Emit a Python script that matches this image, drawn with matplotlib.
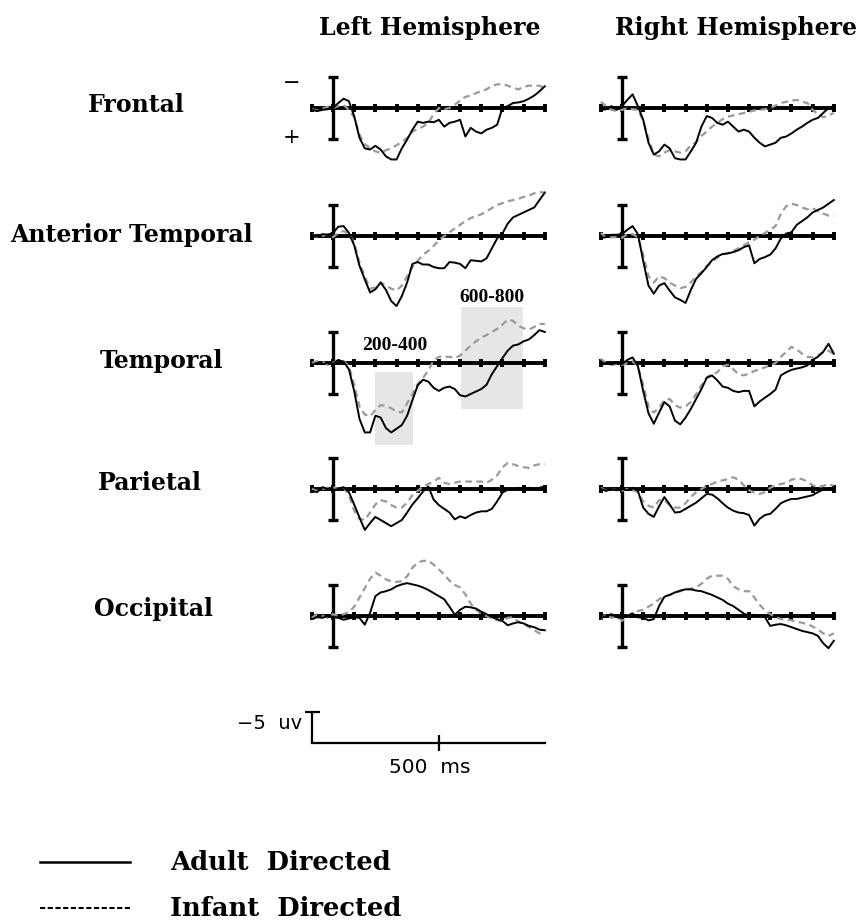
"""
ERP 波形圖：成人導向 vs 嬰兒導向語音
左右半球 × 五個腦區，負值朝上
"""

import matplotlib.pyplot as plt
import numpy as np

# ==================== 數據 ====================
times = np.arange(-100, 1001, 25)  # ms

regions = ['Frontal', 'Anterior Temporal', 'Temporal', 'Parietal', 'Occipital']
hemispheres = ['Left Hemisphere', 'Right Hemisphere']

# 振幅 (uV)，正值畫在基線下方
frontal_left_adult = [0.3, 0.5, 0.3, 0.2, 0.0, -0.8, -1.5, -1.1, 1.3,
                      4.8, 6.5, 6.7, 6.1, 6.7, 7.8, 8.3, 8.3, 6.5,
                      5.1, 3.5, 2.2, 2.4, 2.2, 2.3, 1.9, 3.0, 2.4,
                      2.2, 1.9, 4.6, 3.2, 3.8, 4.1, 3.5, 3.2, 2.7,
                      0.0, -0.3, -0.8, -0.9, -1.1, -1.5, -2.0, -2.7, -3.5]
frontal_left_infant = [0.2, 0.4, 0.1, -0.2, 0.0, -0.3, -0.5, 0.3, 1.5,
                       4.3, 5.8, 6.5, 7.0, 7.2, 6.8, 6.5, 6.0, 5.5,
                       4.8, 3.8, 3.4, 3.0, 2.4, 1.0, 0.0, 0.2, 0.0,
                       -0.5, -1.2, -1.8, -2.0, -2.4, -2.7, -3.0, -3.6, -3.8,
                       -3.9, -3.6, -3.3, -3.0, -3.4, -3.6, -3.6, -3.6, -3.2]
frontal_right_adult = [0.3, 0.2, -0.3, 0.3, -0.3, -1.3, -2.2, -0.3, 1.9,
                       5.6, 7.5, 7.0, 5.9, 6.5, 8.1, 8.3, 8.3, 7.0,
                       5.6, 3.0, 1.3, 1.6, 2.4, 2.7, 2.2, 3.0, 3.8,
                       3.5, 3.8, 4.8, 5.6, 6.2, 5.9, 5.6, 4.8, 4.6,
                       4.1, 3.5, 3.0, 2.4, 1.9, 1.6, 0.8, 0.0, -0.3]
frontal_right_infant = [-1.0, -0.3, 0.3, 0.5, 0.3, 0.0, 0.2, 0.3, 2.0,
                        5.0, 7.5, 7.8, 7.2, 6.8, 7.0, 7.2, 7.0, 6.0,
                        5.5, 4.5, 3.8, 3.0, 2.4, 1.8, 1.4, 1.2, 1.0,
                        0.8, 0.6, 0.4, 0.3, 0.2, 0.0, -0.4, -0.8, -1.0,
                        -1.2, -1.3, -1.0, -0.8, 0.3, 1.0, 1.5, 1.2, 0.8]

ant_temporal_left_adult = [-0.2, 0.1, -0.3, -0.2, -0.5, -1.5, -1.6, -0.5, 1.5,
                           4.8, 7.0, 9.1, 8.6, 7.5, 8.7, 10.5, 11.3, 9.7,
                           7.5, 4.5, 4.2, 4.6, 4.6, 5.0, 5.2, 5.2, 4.2,
                           4.3, 4.5, 5.2, 3.9, 4.0, 4.1, 3.6, 2.0, 0.4,
                           -0.4, -2.0, -3.0, -3.4, -3.8, -4.2, -4.6, -5.8, -7.0]
ant_temporal_left_infant = [-0.3, 0.2, 0.0, -0.3, 0.2, -0.5, -0.8, -0.3, 1.0,
                            4.3, 6.5, 8.5, 8.3, 7.5, 8.0, 8.5, 8.8, 8.0,
                            6.5, 5.0, 4.0, 3.0, 2.4, 1.6, 0.7, 0.0, -0.6,
                            -1.2, -1.8, -2.4, -2.9, -3.2, -3.5, -4.0, -4.5, -5.0,
                            -5.3, -5.6, -5.8, -6.0, -6.3, -6.5, -6.9, -7.1, -7.0]
ant_temporal_right_adult = [0.3, 0.2, -0.2, -0.2, -0.3, -1.0, -1.6, -0.3, 4.0,
                            8.0, 9.3, 8.0, 7.6, 8.8, 9.9, 10.3, 10.8, 8.7,
                            6.9, 6.0, 5.0, 3.9, 3.3, 2.9, 2.8, 2.6, 2.3,
                            1.8, 1.5, 4.4, 3.7, 3.4, 3.0, 2.0, 0.4, -0.4,
                            -0.6, -1.8, -2.4, -3.0, -3.8, -4.2, -4.6, -5.2, -5.8]
ant_temporal_right_infant = [-0.5, 0.3, 0.2, 0.2, 0.3, -0.3, -0.3, 0.2, 3.0,
                             6.5, 7.5, 6.5, 6.8, 7.5, 8.0, 8.4, 8.2, 7.5,
                             6.5, 5.8, 4.8, 4.2, 3.5, 3.0, 2.8, 2.4, 2.0,
                             1.5, 1.0, 0.6, 0.0, -0.5, -1.0, -1.6, -3.6, -4.8,
                             -5.2, -5.0, -4.6, -4.3, -4.5, -4.0, -3.6, -3.3, -3.2]

temporal_left_adult = [0.3, 0.0, 0.2, 0.0, 0.2, -0.5, -0.2, 1.0, 4.5,
                       9.0, 11.2, 11.2, 8.5, 8.8, 10.5, 11.2, 10.6, 10.0,
                       8.5, 6.0, 3.6, 2.7, 3.0, 4.0, 4.5, 4.0, 3.8,
                       4.2, 5.2, 5.4, 5.0, 4.6, 4.2, 3.5, 1.8, 0.5,
                       -0.8, -2.0, -2.8, -3.0, -3.5, -3.8, -4.5, -5.3, -5.0]
temporal_left_infant = [0.0, -0.3, -0.2, 0.3, 0.0, -0.5, -0.3, 0.5, 3.5,
                        7.0, 8.3, 8.6, 7.6, 6.8, 6.9, 7.3, 7.8, 8.0,
                        6.5, 5.0, 3.4, 2.4, 1.2, -0.4, -1.0, -1.0, -1.0,
                        -0.8, -1.2, -2.0, -2.8, -3.5, -4.1, -4.5, -5.0, -5.5,
                        -6.2, -7.0, -6.8, -6.0, -5.6, -5.4, -5.8, -6.3, -6.3]
temporal_right_adult = [0.2, 0.0, 0.2, 0.0, 0.2, -0.5, -0.9, 0.5, 4.5,
                        8.1, 9.8, 8.0, 6.3, 7.0, 9.3, 9.9, 8.8, 7.4,
                        5.8, 4.2, 2.4, 2.0, 2.8, 3.8, 4.0, 4.5, 4.7,
                        4.5, 4.5, 7.0, 6.2, 5.6, 5.0, 4.3, 2.0, 1.5,
                        1.1, 0.9, 0.7, 0.4, -0.5, -1.0, -1.8, -3.1, -1.5]
temporal_right_infant = [-0.7, 0.0, 0.3, 0.2, 0.3, 0.0, -0.3, 0.5, 3.5,
                         7.0, 8.0, 7.2, 6.0, 5.8, 6.8, 7.2, 7.0, 6.3,
                         5.0, 3.6, 2.3, 1.8, 1.5, 0.5, 0.3, 1.0, 1.8,
                         2.0, 1.7, 1.3, 1.0, 0.7, 0.4, 0.0, -1.0, -1.8,
                         -2.6, -2.2, -1.5, -1.0, -0.9, -1.2, -1.8, -2.0, -1.4]

parietal_left_adult = [0.3, 0.5, -0.3, 0.0, 0.2, 0.0, -0.3, 0.5, 2.5,
                       4.6, 6.6, 5.5, 4.5, 5.0, 5.5, 6.0, 5.5, 5.0,
                       3.8, 2.5, 1.5, 0.4, -0.4, 1.7, 2.6, 3.2, 3.8,
                       4.9, 4.4, 4.7, 4.2, 3.8, 3.6, 3.6, 3.2, 2.0,
                       0.6, 0.1, 0.0, -0.2, 0.0, -0.2, 0.0, -0.2, -0.4]
parietal_left_infant = [0.0, 0.3, 0.0, -0.2, -0.3, 0.0, -0.3, 1.0, 3.5,
                        4.8, 5.0, 3.8, 2.5, 1.8, 2.0, 2.6, 3.0, 3.0,
                        2.2, 1.0, 0.3, -0.4, -0.8, -1.2, -1.8, -1.0, -0.8,
                        -1.0, -1.2, -1.2, -1.2, -1.2, -1.2, -1.0, -1.5, -2.2,
                        -3.5, -4.2, -4.0, -3.7, -3.5, -3.4, -3.8, -4.0, -4.0]
parietal_right_adult = [0.0, 0.3, 0.0, 0.2, 0.0, 0.2, -0.2, 0.3, 3.0,
                        4.0, 4.5, 2.8, 1.3, 2.5, 3.8, 3.7, 3.2, 2.7,
                        2.2, 1.5, 0.8, 0.9, 1.5, 2.3, 3.0, 3.5, 3.8,
                        3.9, 4.2, 5.9, 4.8, 4.2, 4.0, 3.2, 2.3, 1.9,
                        1.6, 1.6, 1.4, 1.2, 1.0, 0.5, 0.1, 0.0, -0.3]
parietal_right_infant = [-0.2, 0.3, 0.0, 0.2, 0.3, 0.0, 0.2, 0.5, 2.0,
                         2.7, 3.0, 1.8, 1.8, 2.6, 3.0, 3.0, 2.3, 1.3,
                         0.5, 0.0, -0.5, -0.8, -1.2, -1.4, -1.6, -1.9, -1.5,
                         -0.6, 0.2, 0.6, 0.8, 0.5, -0.2, -0.6, -0.8, -1.0,
                         -1.5, -1.7, -1.6, -1.2, -0.6, -0.3, -0.5, -0.8, -0.5]

occipital_left_adult = [0.5, 0.2, 0.3, 0.0, 0.2, 0.3, 0.6, 0.4, 0.2,
                        0.3, 1.4, -0.5, -3.2, -3.8, -4.0, -4.3, -4.8, -5.1,
                        -5.3, -5.1, -4.9, -4.6, -4.2, -3.7, -3.2, -2.7, -1.5,
                        -0.2, -1.0, -1.5, -1.4, -1.2, -0.7, -0.3, 0.2, 0.5,
                        0.8, 1.5, 1.2, 1.0, 1.2, 1.6, 1.8, 2.2, 2.3]
occipital_left_infant = [0.3, -0.3, 0.0, 0.3, -0.3, 0.0, -0.3, -0.6, -1.5,
                         -3.0, -4.5, -6.0, -7.0, -6.5, -5.9, -5.6, -5.5, -5.6,
                         -6.4, -7.8, -8.6, -8.9, -8.9, -8.3, -7.5, -6.7, -5.7,
                         -5.0, -4.6, -3.5, -2.0, -1.0, -0.4, 0.0, 0.4, 0.7,
                         0.8, 0.3, 0.2, 0.9, 1.3, 1.8, 2.3, 2.8, 2.6]
occipital_right_adult = [0.3, 0.0, -0.3, 0.2, 0.3, 0.0, -0.4, 0.2, 0.3,
                         0.7, 0.5, -1.6, -3.1, -3.4, -3.8, -4.1, -4.3, -4.3,
                         -4.1, -4.0, -3.7, -3.4, -3.0, -2.6, -2.0, -1.6, -1.0,
                         -0.4, 0.0, -0.2, 0.0, 0.2, 1.6, 1.4, 1.3, 1.5,
                         1.8, 2.1, 2.4, 2.6, 2.8, 3.2, 4.4, 5.2, 4.0]
occipital_right_infant = [0.5, -0.3, 0.3, 0.0, 0.8, 0.0, -0.5, -0.8, -1.0,
                          -1.5, -2.0, -2.7, -3.2, -3.4, -3.7, -4.0, -4.2, -4.4,
                          -4.6, -5.2, -6.0, -6.5, -6.5, -6.5, -6.0, -4.8, -4.3,
                          -4.0, -4.0, -3.0, -1.8, -0.9, -0.3, 0.2, 0.5, 0.6,
                          0.7, 0.9, 1.1, 1.3, 1.7, 2.2, 2.8, 3.2, 2.8]

adult_waves = [[frontal_left_adult, frontal_right_adult],
               [ant_temporal_left_adult, ant_temporal_right_adult],
               [temporal_left_adult, temporal_right_adult],
               [parietal_left_adult, parietal_right_adult],
               [occipital_left_adult, occipital_right_adult]]
infant_waves = [[frontal_left_infant, frontal_right_infant],
                [ant_temporal_left_infant, ant_temporal_right_infant],
                [temporal_left_infant, temporal_right_infant],
                [parietal_left_infant, parietal_right_infant],
                [occipital_left_infant, occipital_right_infant]]

# 左顳區的分析時窗 (灰色區塊)
window_labels = ['200-400', '600-800']
window_ms = [(200, 380), (605, 895)]
window_uv = [(1.5, 13.2), (-9.0, 7.4)]

tick_ms = np.arange(-100, 1001, 100)
scale_uv = -5
scale_ms = 500

# ==================== 版面 (像素) ====================
W, H = 863, 924
PX_MS = 0.2118   # 每 ms 的像素
PX_UV = 6.2      # 每 uV 的像素
T0, T1 = -130, 1030
V0, V1 = -12, 14
col_zero_x = [333, 622]
row_base_y = [108, 236, 363, 489, 616]

SERIF = 'DejaVu Serif'

fig = plt.figure(figsize=(W / 100, H / 100), dpi=100)


def panel_axes(x_zero, y_base):
    left = x_zero + T0 * PX_MS
    top = y_base + V0 * PX_UV
    w = (T1 - T0) * PX_MS
    h = (V1 - V0) * PX_UV
    ax = fig.add_axes([left / W, 1 - (top + h) / H, w / W, h / H])
    ax.set_xlim(T0, T1)
    ax.set_ylim(V1, V0)  # 負值朝上
    ax.axis('off')
    return ax


def draw_frame(ax):
    ax.plot([-100, 1000], [0, 0], color='black', lw=2.8, solid_capstyle='butt', zorder=3)
    ax.vlines(tick_ms, -0.7, 0.7, color='black', lw=2.8, zorder=3)
    ax.vlines(0, -5, 5, color='black', lw=2.4, zorder=3)
    ax.hlines([-5, 5], -24, 24, color='black', lw=2.4, zorder=3)


for r in range(len(regions)):
    for c in range(2):
        ax = panel_axes(col_zero_x[c], row_base_y[r])
        draw_frame(ax)
        ax.plot(times, infant_waves[r][c], color='#9a9a9a', lw=1.6,
                linestyle=(0, (3, 2)), zorder=4)
        ax.plot(times, adult_waves[r][c], color='black', lw=1.4, zorder=5)

        if r == 0 and c == 0:
            ax.text(-198, -3.9, '\u2212', fontsize=15, ha='center', va='center', family=SERIF)
            ax.text(-198, 4.8, '+', fontsize=15, ha='center', va='center', family=SERIF)

        if r == 2 and c == 0:
            for t_ab, v_ab in zip(window_ms, window_uv):
                ax.fill_between(t_ab, v_ab[0], v_ab[1], color='#e6e6e6', lw=0, zorder=1)
            ax.text(293, -2.9, window_labels[0], fontsize=14, fontweight='bold',
                    family='Liberation Serif', ha='center', va='center', zorder=6)
            ax.text(751, -10.6, window_labels[1], fontsize=14, fontweight='bold',
                    family='Liberation Serif', ha='center', va='center', zorder=6)

# ==================== 比例尺 ====================
ax_s = panel_axes(col_zero_x[0], 743)
ax_s.plot([-100, 1000], [0, 0], color='black', lw=1.6)
ax_s.vlines(-100, scale_uv, 0, color='black', lw=1.6)
ax_s.hlines(scale_uv, -138, -62, color='black', lw=1.6)
ax_s.vlines(scale_ms, -1.3, 1.3, color='black', lw=1.6)
ax_s.text(-146, -3.2, '\u22125  uv', fontsize=14, ha='right', va='center')
ax_s.text(scale_ms - 45, 3.9, f'{scale_ms}  ms', fontsize=14.5, ha='center', va='center')

# ==================== 文字與圖例 (像素座標) ====================
ov = fig.add_axes([0, 0, 1, 1], facecolor='none')
ov.set_xlim(0, W)
ov.set_ylim(H, 0)
ov.axis('off')

ov.text(430, 28, hemispheres[0], fontsize=17, fontweight='bold', family=SERIF,
        ha='center', va='center')
ov.text(736, 28, hemispheres[1], fontsize=17, fontweight='bold', family=SERIF,
        ha='center', va='center')

label_x = [136, 131, 161, 150, 153]
label_y = [105, 235, 361, 483, 609]
for name, lx, ly in zip(regions, label_x, label_y):
    ov.text(lx, ly, name, fontsize=17, fontweight='bold', family=SERIF,
            ha='center', va='center')

ov.plot([40, 130], [862, 862], color='black', lw=1.8)
ov.plot([40, 130], [908, 908], color='black', lw=1.5, linestyle=(0, (2.5, 1.2)))
ov.text(170, 863, 'Adult  Directed', fontsize=18.5, family=SERIF, fontweight='bold',
        ha='left', va='center')
ov.text(170, 909, 'Infant  Directed', fontsize=18.5, family=SERIF, fontweight='bold',
        ha='left', va='center')

fig.savefig('out.png', dpi=100)
